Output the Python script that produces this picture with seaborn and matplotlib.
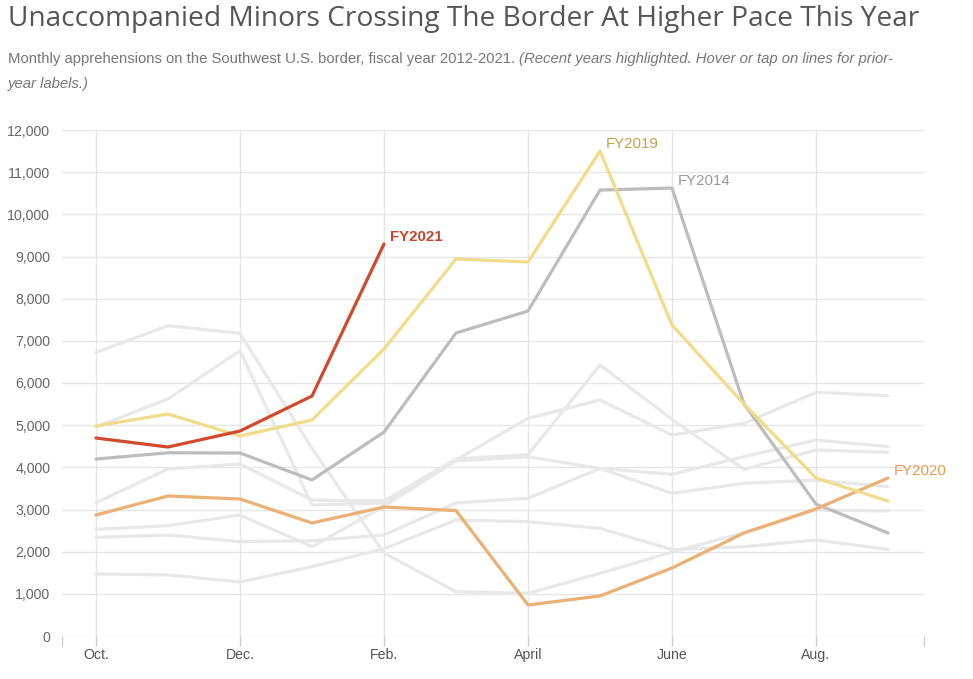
import numpy as np
import pandas as pd
import matplotlib
matplotlib.use("Agg")
import matplotlib.pyplot as plt
import seaborn as sns

# --- Data ---
months = ["Oct.", "Nov.", "Dec.", "Jan.", "Feb.", "Mar.", "April", "May", "June", "July", "Aug.", "Sep."]
tick_months = ["Oct.", "Dec.", "Feb.", "April", "June", "Aug."]

fy2012 = [1470, 1450, 1280, 1644, 2070, 2750, 2711, 2553, 2050, 2118, 2276, 2055]
fy2013 = [2340, 2395, 2237, 2261, 2395, 3154, 3265, 3976, 3383, 3621, 3699, 3541]
fy2015 = [2530, 2616, 2870, 2118, 3080, 4150, 4250, 3976, 3834, 4252, 4648, 4490]
fy2016 = [4960, 5620, 6766, 3106, 3150, 4174, 5162, 5597, 4766, 5043, 5779, 5699]
fy2017 = [6727, 7359, 7178, 4450, 1968, 1051, 1012, 1486, 1990, 2450, 2988, 2964]
fy2018 = [3162, 3960, 4079, 3225, 3200, 4200, 4300, 6426, 5140, 3953, 4411, 4356]
fy2014 = [4197, 4345, 4340, 3700, 4838, 7185, 7707, 10576, 10624, 5501, 3130, 2443]
fy2019 = [4980, 5264, 4743, 5122, 6806, 8940, 8869, 11501, 7375, 5501, 3747, 3200]
fy2020 = [2869, 3320, 3249, 2680, 3059, 2975, 735, 949, 1612, 2443, 3012, 3747]
fy2021 = [4695, 4482, 4861, 5691, 9296]

series = {
    "FY2012": fy2012, "FY2013": fy2013, "FY2015": fy2015, "FY2016": fy2016,
    "FY2017": fy2017, "FY2018": fy2018, "FY2014": fy2014, "FY2020": fy2020,
    "FY2019": fy2019, "FY2021": fy2021,
}
background_years = ["FY2012", "FY2013", "FY2015", "FY2016", "FY2017", "FY2018"]
highlight_years = ["FY2014", "FY2020", "FY2019", "FY2021"]

colors = {"FY2014": "#bdbdbd", "FY2020": "#ebb073", "FY2019": "#f2dc8a", "FY2021": "#d04a2c"}
label_colors = {"FY2014": "#9a9a9a", "FY2020": "#e39a50", "FY2019": "#c2a447", "FY2021": "#c9442a"}
palette = {y: "#e8e8e8" for y in background_years}
palette.update(colors)

rows = []
for year, vals in series.items():
    for i, v in enumerate(vals):
        rows.append({"year": year, "month": i, "value": v})
df = pd.DataFrame(rows)

# --- Figure ---
sns.set_theme(style="white")
plt.rcParams["font.family"] = ["Liberation Sans", "DejaVu Sans"]

W, H = 973, 679
fig = plt.figure(figsize=(W / 100, H / 100), dpi=100)
ax = fig.add_axes([62 / W, 1 - 636 / H, (924 - 62) / W, (636 - 130) / H])

sns.lineplot(data=df, x="month", y="value", hue="year",
             hue_order=background_years + highlight_years, palette=palette,
             linewidth=2.3, legend=False, sort=False, ax=ax)

ax.set_xlim(-0.472, 11.5)
ax.set_ylim(0, 12000)
ax.set_xlabel("")
ax.set_ylabel("")

ax.set_yticks(np.arange(0, 12001, 1000))
ax.set_yticklabels([f"{v:,}" for v in range(0, 12001, 1000)])
tick_pos = [months.index(m) for m in tick_months]
ax.set_xticks(tick_pos)
ax.set_xticklabels(tick_months)
ax.set_xticks([-0.472, 11.5], minor=True)

ax.grid(True, which="major", color="#e6e6e6", linewidth=1)
ax.set_axisbelow(True)
for s in ax.spines.values():
    s.set_visible(False)
ax.tick_params(axis="y", length=0, pad=8.5, labelsize=10.2, labelcolor="#666666")
ax.tick_params(axis="x", which="both", length=7, width=1, color="#cccccc",
               labelsize=10.2, labelcolor="#555555", pad=1.5, bottom=True)

# series labels at the highlighted lines
label_points = {"FY2021": 4, "FY2019": 7, "FY2014": 8, "FY2020": 11}
for year, idx in label_points.items():
    weight = "bold" if year == "FY2021" else "normal"
    ax.annotate(year, (idx, series[year][idx]), xytext=(6, 7),
                textcoords="offset pixels", ha="left", va="center",
                fontsize=10.8, color=label_colors[year], fontweight=weight)

# --- Title and subtitle ---
renderer = fig.canvas.get_renderer()

title = fig.text(8 / W, 1 - 19 / H, "Unaccompanied Minors Crossing The Border At Higher Pace This Year",
                 fontsize=17, color="#555555", family=["Open Sans", "DejaVu Sans"],
                 ha="left", va="center")
tw = title.get_window_extent(renderer=renderer).width
title.set_fontsize(17 * 914 / tw)

sub_size = 10.7
sub1 = fig.text(8 / W, 1 - 59 / H,
                "Monthly apprehensions on the Southwest U.S. border, fiscal year 2012-2021. ",
                fontsize=sub_size, color="#777777", ha="left", va="center")
bb = sub1.get_window_extent(renderer=renderer)
fig.text(bb.x1 / W, 1 - 59 / H,
         "(Recent years highlighted. Hover or tap on lines for prior-",
         fontsize=sub_size, color="#777777", style="italic", ha="left", va="center")
fig.text(8 / W, 1 - 84 / H, "year labels.)",
         fontsize=sub_size, color="#777777", style="italic", ha="left", va="center")

fig.savefig("out.png", dpi=100, facecolor="white")
